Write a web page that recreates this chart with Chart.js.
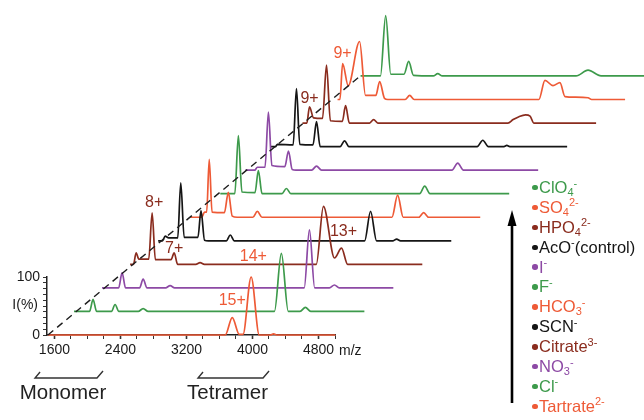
<!DOCTYPE html>
<html><head><meta charset="utf-8">
<script src="https://cdn.jsdelivr.net/npm/chart.js@4.4.1/dist/chart.umd.min.js"></script>
<style>
html,body{margin:0;padding:0;background:#fff;}
#wrap{position:relative;width:644px;height:420px;overflow:hidden;background:#fff;}
canvas{position:absolute;left:0;top:0;}
#legend{position:absolute;left:532px;top:178px;font-family:"Liberation Sans",Arial,sans-serif;font-size:16.5px;}
#legend div{height:19.9px;line-height:19.9px;white-space:nowrap;}
#legend .dot{display:inline-block;width:5.5px;height:5.5px;border-radius:50%;margin-right:1.5px;vertical-align:middle;position:relative;top:-1px;}
#legend sub,#legend sup{font-size:11px;line-height:0;position:relative;vertical-align:baseline;}
#legend sub{top:3px;}
#legend sup{top:-6.5px;}
</style></head>
<body><div id="wrap"><canvas id="c" width="644" height="420"></canvas><div id="legend"></div></div>
<script>
// ---- data: each spectrum as [m/z, relative intensity %], front (bottom) to back (top) ----
const tartrate = [[1521,0],[3670,0],[3755,30],[3840,1],[3885,1],[3984,100],[4082,0],[4215,0],[4255,2],[4300,0],[5005,0]];
const chloride = [[1486,0],[1675,0],[1717,21],[1760,0],[1940,0],[1984,12],[2030,0],[2265,0],[2324,5],[2385,0],[3915,0],[3999,100],[4083,0],[4225,0],[4290,7],[4355,0],[5005,0]];
const nitrate = [[1475,0],[1676,0],[1718,26],[1760,0],[1930,0],[1973,15],[2020,0],[2245,0],[2300,4],[2355,0],[3925,0],[3988,100],[4052,0],[4230,0],[4291,5],[4350,0],[5005,0]];
const citrate = [[1464,0],[1505,0],[1537,20],[1570,9],[1690,9],[1731,89],[1770,8],[1960,8],[1998,20],[2040,0],[2260,0],[2312,3],[2365,0],[3720,0],[3807,100],[3941,11],[4026,28],[4100,0],[5005,0]];
const thiocyanate = [[1453,0],[1505,0],[1538,8],[1580,5],[1690,5],[1727,100],[1768,6],[1935,6],[1972,52],[2015,1],[2060,0],[2280,0],[2327,10],[2375,0],[3955,0],[4027,51],[4100,0],[4300,0],[4343,3],[4390,0],[5005,0]];
const bicarbonate = [[1491,0],[1630,0],[1665,9],[1690,9],[1721,100],[1755,9],[1905,8],[1952,43],[2000,2],[2060,0],[2250,0],[2304,10],[2360,0],[3935,0],[4004,38],[4072,0],[4260,0],[4319,8],[4380,0],[5005,0]];
const fluoride = [[1504,0],[1680,0],[1723,100],[1766,3],[1925,2],[1965,40],[2010,0],[2250,0],[2305,9],[2360,0],[3920,0],[3981,13],[4045,0],[5005,0]];
const iodide = [[1457,0],[1570,0],[1602,5],[1695,5],[1736,100],[1778,8],[1935,6],[1979,33],[2025,1],[2070,0],[2260,0],[2319,7],[2380,0],[3960,0],[4030,12],[4100,0],[5005,0]];
const acetate = [[1409,0],[1470,0],[1494,4],[1685,3],[1725,100],[1765,4],[1925,3],[1968,43],[2012,0],[2255,0],[2308,10],[2360,0],[3915,0],[3983,11],[4050,0],[4240,0],[4274,2],[4310,0],[5005,0]];
const phosphate = [[1447,0],[1500,0],[1532,28],[1581,9],[1690,8],[1738,100],[1785,4],[1930,3],[1969,30],[2015,0],[2260,0],[2309,6],[2360,0],[3936,0],[4000,6],[4070,11],[4150,14],[4205,12],[4250,0],[5005,0]];
const sulfate = [[1521,0],[1550,0],[1582,62],[1650,24],[1788,100],[1860,7],[1985,7],[2031,31],[2090,2],[2130,0],[2340,0],[2395,7],[2450,0],[3961,0],[4034,33],[4131,24],[4216,29],[4277,5],[4400,4],[4556,3],[4600,0],[5005,0]];
const perchlorate = [[1449,0],[1690,0],[1753,104],[1815,3],[1975,3],[2032,25],[2090,1],[2330,0],[2384,4],[2440,0],[4060,0],[4205,10],[4363,0],[5005,0]];

const traceNames = ['Tartrate<sup>2-</sup>','Cl<sup>-</sup>','NO<sub>3</sub><sup>-</sup>','Citrate<sup>3-</sup>','SCN<sup>-</sup>','HCO<sub>3</sub><sup>-</sup>','F<sup>-</sup>','I<sup>-</sup>','AcO<sup>-</sup>(control)','HPO<sub>4</sub><sup>2-</sup>','SO<sub>4</sub><sup>2-</sup>','ClO<sub>4</sub><sup>-</sup>'];
const spectra = [tartrate, chloride, nitrate, citrate, thiocyanate, bicarbonate, fluoride, iodide, acetate, phosphate, sulfate, perchlorate];

const xMajorTicks = [1600, 2400, 3200, 4000, 4800];
const xMinorTicks = [1600,1800,2000,2200,2400,2600,2800,3000,3200,3400,3600,3800,4000,4200,4400,4600,4800,5000];
const yTicks = [0,10,20,30,40,50,60,70,80,90,100];
const yLabelTicks = [0, 100];

const chargeLabels = [
  {text:'15+', trace:0, mz:3755, pct:60},
  {text:'14+', trace:1, mz:3659, pct:94},
  {text:'13+', trace:3, mz:4050, pct:56},
  {text:'8+', trace:3, mz:1755, pct:107},
  {text:'7+', trace:3, mz:1998, pct:28},
  {text:'9+', trace:9, mz:1532, pct:42},
  {text:'9+', trace:10, mz:1582, pct:80}
];
const guideLine = [[1521,0],[5309,447]];
const monomerRange = [1365, 2116];
const tetramerRange = [3340, 4128];

// ---- waterfall offsets & styles ----
const traceShiftMz = 351, traceShiftPct = 40.6;
const ORANGE='#ee5a36', GREEN='#3d9a4b', PURPLE='#8d4aa5', BROWN='#8a2c1e', BLACK='#151515';
const traceColors = [ORANGE, GREEN, PURPLE, BROWN, BLACK, ORANGE, GREEN, PURPLE, BLACK, BROWN, ORANGE, GREEN];
const chargeLabelColors = [ORANGE, ORANGE, BROWN, BROWN, BROWN, BROWN, ORANGE];
const FONT = '"Liberation Sans", Arial, sans-serif';

const datasets = [{
  label:'guide', data: guideLine.map(([x,y])=>({x,y})),
  borderColor:'#1e1e1e', borderWidth:1.4, borderDash:[7,5], pointRadius:0, clip:false, order:0, tension:0
}];
spectra.forEach((s,i)=>{
  datasets.push({
    label: traceNames[i],
    data: s.map(([mz,p])=>({x: mz + i*traceShiftMz, y: p + i*traceShiftPct})),
    borderColor: traceColors[i], borderWidth:1.7, pointRadius:0,
    cubicInterpolationMode:'monotone', clip:false, order:i+1
  });
});

const decor = {
  id:'decor',
  afterDraw(chart){
    const {ctx, scales:{x, y}, chartArea} = chart;
    ctx.save();
    ctx.font = '16px ' + FONT;
    ctx.textAlign = 'center'; ctx.textBaseline = 'middle';
    chargeLabels.forEach((l, k)=>{
      ctx.fillStyle = chargeLabelColors[k];
      ctx.fillText(l.text, x.getPixelForValue(l.mz + l.trace*traceShiftMz), y.getPixelForValue(l.pct + l.trace*traceShiftPct));
    });
    ctx.fillStyle = '#1a1a1a';
    ctx.font = '14px ' + FONT;
    ctx.textAlign = 'right';
    ctx.fillText('I(%)', chartArea.left - 9, y.getPixelForValue(52));
    ctx.textAlign = 'left';
    ctx.fillText('m/z', chartArea.right + 4, chartArea.bottom + 16);
    ctx.strokeStyle = '#333'; ctx.lineWidth = 1.4;
    const by = chartArea.bottom + 43;
    [[monomerRange,'Monomer'],[tetramerRange,'Tetramer']].forEach(([r, t])=>{
      const a = x.getPixelForValue(r[0]), b = x.getPixelForValue(r[1]);
      ctx.beginPath();
      ctx.moveTo(a + 5, by - 6); ctx.lineTo(a, by); ctx.lineTo(b, by); ctx.lineTo(b + 6, by - 7);
      ctx.stroke();
      ctx.font = '20.5px ' + FONT; ctx.textAlign = 'center'; ctx.textBaseline = 'middle';
      ctx.fillStyle = '#222';
      ctx.fillText(t, (a + b)/2 - 3, chartArea.bottom + 58);
    });
    ctx.strokeStyle = '#000'; ctx.fillStyle = '#000'; ctx.lineWidth = 2.6;
    ctx.beginPath(); ctx.moveTo(512, 403); ctx.lineTo(512, 222); ctx.stroke();
    ctx.beginPath(); ctx.moveTo(512, 210); ctx.lineTo(516.5, 226); ctx.lineTo(507.5, 226); ctx.closePath(); ctx.fill();
    ctx.restore();
  }
};

new Chart(document.getElementById('c'), {
  type:'line',
  data:{datasets},
  options:{
    responsive:false, animation:false, devicePixelRatio:1,
    layout:{padding:{left:0, top:277, right:309, bottom:0}},
    elements:{line:{capBezierPoints:false}},
    plugins:{legend:{display:false}, tooltip:{enabled:false}},
    scales:{
      x:{
        type:'linear', bounds:'data',
        afterDataLimits(s){ s.min = 1510; s.max = 5000; },
        afterBuildTicks(s){ s.ticks = xMinorTicks.map(v=>({value:v})); },
        afterFit(s){ s.height = 85; },
        grid:{drawOnChartArea:false, drawTicks:true, tickLength:4, color:'#333', tickWidth:(c)=> xMajorTicks.includes(c.tick && c.tick.value) ? 1.6 : 1},
        border:{display:true, color:'#222', width:1.5},
        ticks:{autoSkip:false, maxRotation:0, padding:3, color:'#1a1a1a', font:{family:FONT, size:14},
          callback:(v)=> xMajorTicks.includes(v) ? String(v) : ''}
      },
      y:{
        type:'linear', bounds:'data',
        afterDataLimits(s){ s.min = 0; s.max = 100; },
        afterBuildTicks(s){ s.ticks = yTicks.map(v=>({value:v})); },
        afterFit(s){ s.width = 47; },
        grid:{drawOnChartArea:false, drawTicks:true, tickLength:4, color:'#333'},
        border:{display:true, color:'#222', width:1.5},
        ticks:{autoSkip:false, padding:3, color:'#1a1a1a', font:{family:FONT, size:14},
          callback:(v)=> yLabelTicks.includes(v) ? String(v) : ''}
      }
    }
  },
  plugins:[decor]
});

const leg = document.getElementById('legend');
for (let i = spectra.length - 1; i >= 0; i--) {
  const d = document.createElement('div');
  d.style.color = traceColors[i];
  d.innerHTML = '<span class="dot" style="background:' + traceColors[i] + '"></span>' + traceNames[i];
  leg.appendChild(d);
}
</script></body></html>
